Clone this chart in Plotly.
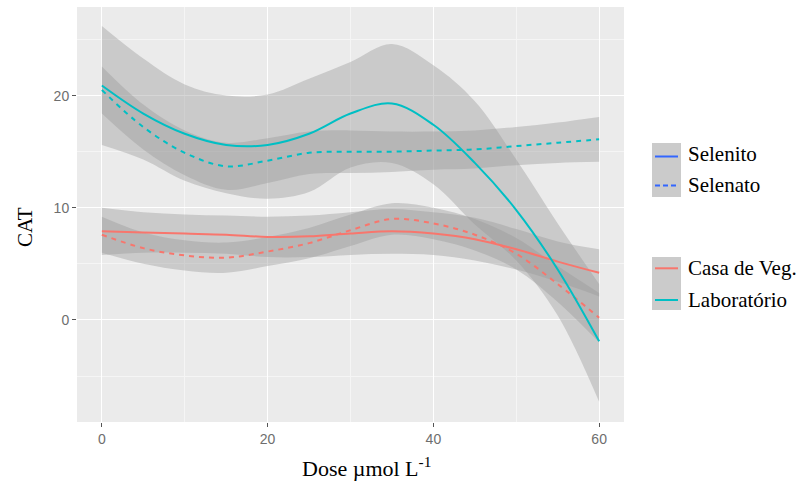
import plotly.graph_objects as go

# ---- data ----
dose = [0, 5, 10, 15, 20, 25, 30, 35, 40, 45, 50, 55, 60]

# Laboratório - Selenito (solid)
lab_selenito = [20.9, 18.4, 16.6, 15.6, 15.6, 16.6, 18.4, 19.3, 17.4, 14.0, 9.8, 4.5, -1.9]
lab_selenito_hi = [26.2, 23.3, 21.0, 20.0, 20.1, 21.5, 23.0, 24.6, 22.7, 19.5, 14.3, 8.6, 3.2]
lab_selenito_lo = [15.6, 14.3, 12.4, 11.3, 10.8, 11.4, 13.6, 14.0, 12.1, 8.5, 5.3, 0.4, -7.3]

# Laboratório - Selenato (dashed)
lab_selenato = [20.5, 17.2, 14.9, 13.7, 14.2, 14.9, 15.0, 15.0, 15.1, 15.2, 15.5, 15.8, 16.1]
lab_selenato_hi = [22.6, 19.2, 16.9, 15.8, 16.2, 16.8, 16.9, 16.8, 16.8, 16.9, 17.2, 17.6, 18.1]
lab_selenato_lo = [18.4, 15.2, 12.9, 11.6, 12.2, 13.0, 13.1, 13.2, 13.4, 13.5, 13.8, 14.0, 14.1]

# Casa de Veg. - Selenito (solid)
cv_selenito = [7.9, 7.8, 7.7, 7.6, 7.4, 7.45, 7.7, 7.9, 7.7, 7.2, 6.3, 5.2, 4.2]
cv_selenito_hi = [10.0, 9.6, 9.4, 9.3, 9.2, 9.3, 9.6, 9.9, 9.6, 9.1, 8.1, 7.0, 6.3]
cv_selenito_lo = [5.8, 6.0, 6.0, 5.9, 5.6, 5.6, 5.8, 5.9, 5.8, 5.3, 4.5, 3.4, 2.1]

# Casa de Veg. - Selenato (dashed)
cv_selenato = [7.6, 6.4, 5.75, 5.55, 6.1, 6.85, 8.0, 9.0, 8.6, 7.6, 5.9, 3.2, 0.2]
cv_selenato_hi = [9.2, 7.8, 7.1, 6.9, 7.4, 8.2, 9.4, 10.4, 10.0, 9.0, 7.3, 4.8, 2.4]
cv_selenato_lo = [6.0, 5.0, 4.4, 4.2, 4.8, 5.5, 6.6, 7.6, 7.2, 6.2, 4.5, 1.6, -2.0]

x_ticks = [0, 20, 40, 60]
y_ticks = [0, 10, 20]

RED = "#F8766D"
TEAL = "#00BFC4"
BLUE = "#3366FF"
RIBBON = "rgba(153,153,153,0.4)"
SERIF = "Liberation Serif, Times New Roman, serif"
SANS = "Liberation Sans, Arial, sans-serif"

series = [
    ("Casa de Veg. / Selenito", cv_selenito, cv_selenito_lo, cv_selenito_hi, RED, "solid"),
    ("Casa de Veg. / Selenato", cv_selenato, cv_selenato_lo, cv_selenato_hi, RED, "5px,5px"),
    ("Laboratório / Selenito", lab_selenito, lab_selenito_lo, lab_selenito_hi, TEAL, "solid"),
    ("Laboratório / Selenato", lab_selenato, lab_selenato_lo, lab_selenato_hi, TEAL, "5px,5px"),
]

fig = go.Figure()

# confidence ribbons
for name, fit, lo, hi, col, dash in series:
    fig.add_trace(go.Scatter(x=dose, y=lo, mode="lines", line=dict(width=0, shape="spline"),
                             hoverinfo="skip", showlegend=False))
    fig.add_trace(go.Scatter(x=dose, y=hi, mode="lines", line=dict(width=0, shape="spline"),
                             fill="tonexty", fillcolor=RIBBON, hoverinfo="skip", showlegend=False))

# fitted lines
for name, fit, lo, hi, col, dash in series:
    fig.add_trace(go.Scatter(x=dose, y=fit, mode="lines", name=name,
                             line=dict(color=col, width=2, dash=dash, shape="spline"),
                             showlegend=False))

# ---- manual legend (ggplot style keys) ----
L, R, T, B = 77, 624, 7, 422
W, H = R - L, B - T
px = lambda v: (v - L) / W
py = lambda v: (B - v) / H

shapes = []
annotations = []
for (y0, y1) in [(143, 197), (257, 310)]:
    shapes.append(dict(type="rect", xref="paper", yref="paper", x0=px(652), x1=px(681),
                       y0=py(y1), y1=py(y0), fillcolor="#CBCBCB", line=dict(width=0), layer="above"))
legend_items = [
    ("Selenito", 156.5, 154, BLUE, "solid"),
    ("Selenato", 185.5, 185, BLUE, "5px,3px"),
    ("Casa de Veg.", 268.3, 268, RED, "solid"),
    ("Laboratório", 300, 300, TEAL, "solid"),
]
for text, ly, ty, col, dash in legend_items:
    shapes.append(dict(type="line", xref="paper", yref="paper", x0=px(655), x1=px(678),
                       y0=py(ly), y1=py(ly), line=dict(color=col, width=2, dash=dash), layer="above"))
    annotations.append(dict(text=text, xref="paper", yref="paper", x=px(686), y=py(ty),
                            xanchor="left", yanchor="middle", showarrow=False,
                            font=dict(family=SERIF, size=21, color="black")))

# x axis title placed as in the reference
annotations.append(dict(text="Dose µmol L<sup>-1</sup>", xref="paper", yref="paper",
                        x=px(366), y=py(467), xanchor="center", yanchor="middle", showarrow=False,
                        font=dict(family=SERIF, size=22, color="black")))
# y axis title
annotations.append(dict(text="CAT", xref="paper", yref="paper", textangle=-90,
                        x=px(25), y=py(227), xanchor="center", yanchor="middle", showarrow=False,
                        font=dict(family=SERIF, size=21, color="black")))

fig.update_layout(
    width=809, height=481,
    margin=dict(l=L, r=809 - R, t=T, b=481 - B),
    paper_bgcolor="white",
    plot_bgcolor="#EBEBEB",
    showlegend=False,
    shapes=shapes,
    annotations=annotations,
    xaxis=dict(
        range=[-3, 63], tickvals=x_ticks, ticktext=[str(v) for v in x_ticks],
        showgrid=True, gridcolor="white", gridwidth=1.2, zeroline=False,
        minor=dict(tickvals=[10, 30, 50], showgrid=True, gridcolor="#F5F5F5", gridwidth=0.6, ticks=""),
        ticks="outside", ticklen=4, tickcolor="#555555", tickwidth=1,
        tickfont=dict(family=SANS, size=14, color="#6E6E6E"),
        showline=False,
    ),
    yaxis=dict(
        range=[-9.1, 27.9], tickvals=y_ticks, ticktext=[str(v) for v in y_ticks],
        showgrid=True, gridcolor="white", gridwidth=1.2, zeroline=False,
        minor=dict(tickvals=[-5, 5, 15, 25], showgrid=True, gridcolor="#F5F5F5", gridwidth=0.6, ticks=""),
        ticks="outside", ticklen=4, tickcolor="#555555", tickwidth=1,
        tickfont=dict(family=SANS, size=14, color="#6E6E6E"),
        showline=False,
    ),
)

fig.write_html("out.html")
